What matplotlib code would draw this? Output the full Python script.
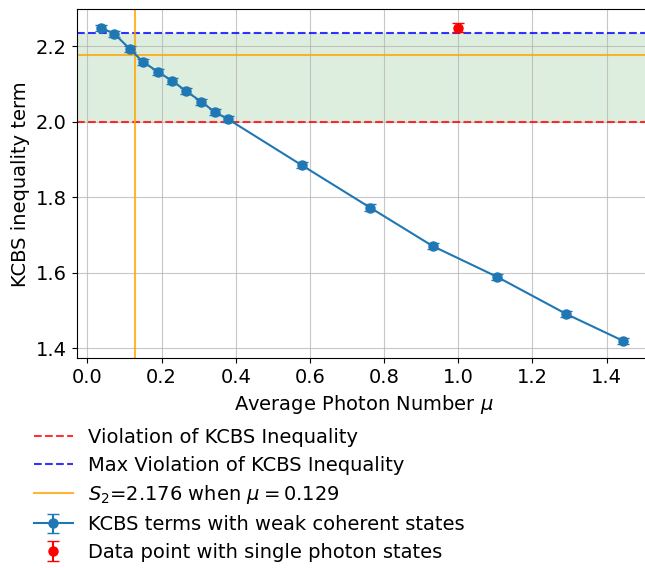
import matplotlib
matplotlib.use("Agg")
import matplotlib.pyplot as plt
import numpy as np

mu = [0.036, 0.072, 0.114, 0.149, 0.190, 0.229, 0.266, 0.307, 0.343, 0.379,
      0.578, 0.762, 0.931, 1.104, 1.292, 1.445]
kcbs = [2.249, 2.233, 2.193, 2.159, 2.132, 2.108, 2.081, 2.053, 2.026, 2.007,
        1.885, 1.773, 1.671, 1.590, 1.491, 1.420]
kcbs_err = [0.008] * len(mu)

single_mu = [1.0]
single_val = [2.249]
single_err = [0.011]

classical_bound = 2.0
quantum_max = 2.236
s2_value = 2.176
s2_mu = 0.129

W, H = 645, 568
fig = plt.figure(figsize=(W / 100, H / 100), dpi=100)
left_px, right_px, top_px, bottom_px = 76.7, 651, 9.3, 358.3
ax = fig.add_axes([left_px / W, 1 - bottom_px / H, (right_px - left_px) / W, (bottom_px - top_px) / H])

fs = 14
ax.axhspan(classical_bound, quantum_max, color='green', alpha=0.13, lw=0)
ax.axhline(classical_bound, color='red', ls='--', lw=1.5, alpha=0.8, label='Violation of KCBS Inequality')
ax.axhline(quantum_max, color='blue', ls='--', lw=1.5, alpha=0.8, label='Max Violation of KCBS Inequality')
ax.axhline(s2_value, color='orange', lw=1.5, alpha=0.8,
           label=r'$S_2$=%.3f when $\mu=%.3f$' % (s2_value, s2_mu))
ax.axvline(s2_mu, color='orange', lw=1.5, alpha=0.8)
ax.errorbar(mu, kcbs, yerr=kcbs_err, fmt='-o', color='#1f77b4', markersize=6.5, capsize=4,
            label='KCBS terms with weak coherent states')
ax.errorbar(single_mu, single_val, yerr=single_err, fmt='o', color='red', markersize=6.5, capsize=4,
            label='Data point with single photon states')

ax.set_xlim(-0.029, 1.52)
ax.set_ylim(1.374, 2.2975)
ax.set_yticks([1.4, 1.6, 1.8, 2.0, 2.2])
ax.set_xticks([0.0, 0.2, 0.4, 0.6, 0.8, 1.0, 1.2, 1.4])
ax.grid(True, color='#b0b0b0', alpha=0.7)
ax.tick_params(labelsize=fs)
ax.set_xlabel(r'Average Photon Number $\mu$', fontsize=fs)
ax.set_ylabel('KCBS inequality term', fontsize=fs)

ax.legend(loc='upper left', bbox_to_anchor=(26 / W, 1 - 420 / H), bbox_transform=fig.transFigure,
          frameon=False, fontsize=fs, borderaxespad=0, labelspacing=0.45)

fig.savefig('out.png', dpi=100)
